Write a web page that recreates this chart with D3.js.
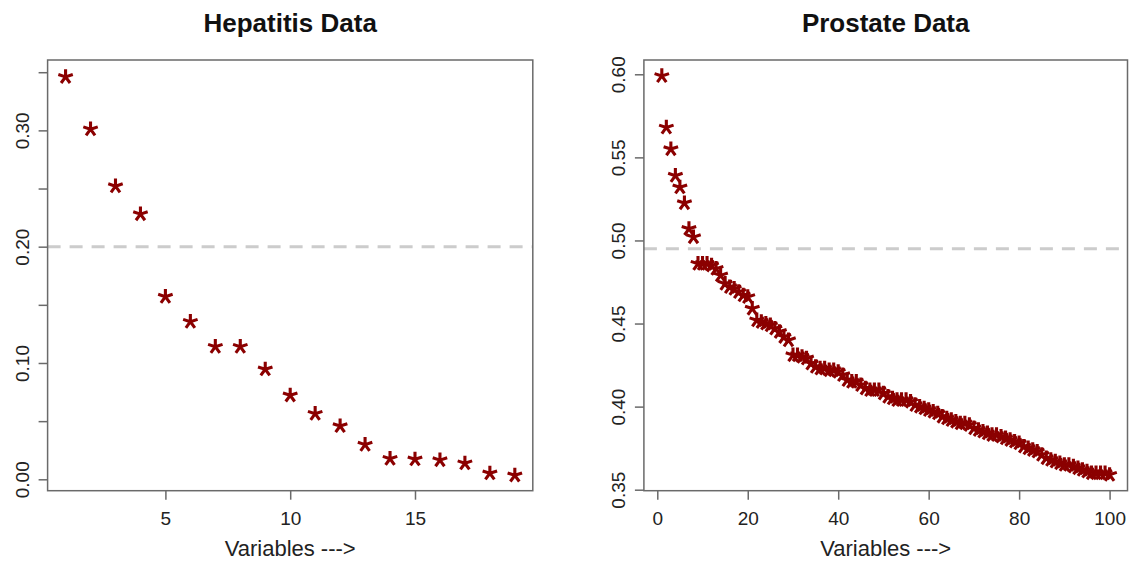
<!DOCTYPE html>
<html><head><meta charset="utf-8">
<script src="https://cdn.jsdelivr.net/npm/d3@7"></script>
<style>
body{margin:0;background:#fff}
svg{display:block}
text{font-family:"Liberation Sans",Arial,Helvetica,sans-serif}
</style>
</head><body>
<svg id="chart" width="1129" height="562"></svg>
<script>
// ---------- DATA ----------
const hepatitisTitle = "Hepatitis Data";
const hepatitisValues = [0.346, 0.301, 0.252, 0.228, 0.157, 0.1355, 0.114, 0.114, 0.0946, 0.0722,
  0.0564, 0.0458, 0.0298, 0.0177, 0.0172, 0.0165, 0.0138, 0.0052, 0.0034];
const hepatitisXTicks = [5, 10, 15];
const hepatitisYTicks = [0.00, 0.05, 0.10, 0.15, 0.20, 0.25, 0.30, 0.35];
const hepatitisYTickLabels = ["0.00", "", "0.10", "", "0.20", "", "0.30", ""];
const hepatitisCutoff = 0.20;

const prostateTitle = "Prostate Data";
const prostateValues = [0.599, 0.568, 0.555, 0.539, 0.532, 0.5225, 0.507, 0.502, 0.486, 0.486,
  0.486, 0.485, 0.483, 0.479, 0.474, 0.472, 0.471, 0.469, 0.467, 0.466,
  0.459, 0.452, 0.451, 0.450, 0.449, 0.447, 0.445, 0.442, 0.440, 0.431,
  0.431, 0.430, 0.429, 0.426, 0.424, 0.423, 0.423, 0.422, 0.422, 0.421,
  0.419, 0.416, 0.415, 0.415, 0.413, 0.411, 0.410, 0.410, 0.410, 0.408,
  0.406, 0.405, 0.404, 0.404, 0.404, 0.403, 0.401, 0.400, 0.399, 0.398,
  0.397, 0.396, 0.394, 0.393, 0.392, 0.391, 0.390, 0.390, 0.389, 0.387,
  0.386, 0.385, 0.384, 0.383, 0.383, 0.382, 0.381, 0.380, 0.379, 0.378,
  0.376, 0.375, 0.374, 0.373, 0.371, 0.369, 0.368, 0.367, 0.366, 0.365,
  0.365, 0.364, 0.363, 0.362, 0.361, 0.360, 0.360, 0.360, 0.360, 0.359];
const prostateXTicks = [0, 20, 40, 60, 80, 100];
const prostateYTicks = [0.35, 0.40, 0.45, 0.50, 0.55, 0.60];
const prostateYTickLabels = ["0.35", "0.40", "0.45", "0.50", "0.55", "0.60"];
const prostateCutoff = 0.495;

const xAxisTitle = "Variables --->";

// ---------- DRAWING ----------
const svg = d3.select("#chart");
const markColor = "#8b0000";
const frameColor = "#6a6a6a";
const textColor = "#222";

function starPath(r) {
  let d = "";
  for (let k = 0; k < 5; k++) {
    const a = -Math.PI / 2 + k * 2 * Math.PI / 5;
    d += "M0,0L" + (r * Math.cos(a)).toFixed(2) + "," + (r * Math.sin(a)).toFixed(2);
  }
  return d;
}

function panel(cfg) {
  const top = 60, bottom = 490.7;
  const x = d3.scaleLinear().domain(cfg.xDomain).range(cfg.xRange);
  const y = d3.scaleLinear().domain(cfg.yDomain).range([bottom, top]);
  const g = svg.append("g");
  const left = cfg.xRange[0], right = cfg.xRange[1];

  // cutoff line
  g.append("line")
    .attr("x1", left).attr("x2", right)
    .attr("y1", y(cfg.cutoff)).attr("y2", y(cfg.cutoff))
    .attr("stroke", "#cccccc").attr("stroke-width", 3)
    .attr("stroke-dasharray", "13,9");

  // points
  g.selectAll("path.pt").data(cfg.values).enter().append("path")
    .attr("class", "pt")
    .attr("d", starPath(7.6))
    .attr("transform", (d, i) => `translate(${x(i + 1)},${y(d)})`)
    .attr("fill", "none")
    .attr("stroke", markColor)
    .attr("stroke-width", 3.1);

  // box
  g.append("rect")
    .attr("x", left).attr("y", top)
    .attr("width", right - left).attr("height", bottom - top)
    .attr("fill", "none").attr("stroke", frameColor).attr("stroke-width", 1.5);

  // x axis
  const xa = g.append("g").attr("transform", `translate(0,${bottom})`)
    .call(d3.axisBottom(x).tickValues(cfg.xTicks).tickSize(9).tickSizeOuter(0).tickFormat(d3.format("d")));
  xa.select(".domain").remove();
  xa.selectAll(".tick line").attr("stroke", frameColor).attr("stroke-width", 1.5);
  xa.selectAll(".tick text").attr("y", 34).attr("dy", 0)
    .attr("fill", textColor).style("font-size", "19px")
    .style("font-family", '"Liberation Sans",Arial,sans-serif');

  // y axis
  const ya = g.append("g").attr("transform", `translate(${left},0)`)
    .call(d3.axisLeft(y).tickValues(cfg.yTicks).tickSize(9).tickSizeOuter(0)
      .tickFormat((d, i) => cfg.yTickLabels[i]));
  ya.select(".domain").remove();
  ya.selectAll(".tick line").attr("stroke", frameColor).attr("stroke-width", 1.5);
  ya.selectAll(".tick text")
    .attr("transform", "rotate(-90)")
    .attr("x", 0).attr("y", -19).attr("dy", 0)
    .style("text-anchor", "middle")
    .attr("fill", textColor).style("font-size", "19px")
    .style("font-family", '"Liberation Sans",Arial,sans-serif');

  // title
  svg.append("text")
    .attr("x", (left + right) / 2).attr("y", 32)
    .attr("text-anchor", "middle")
    .style("font-size", "26px").style("font-weight", "bold")
    .attr("fill", "#111")
    .text(cfg.title);

  // x axis label
  svg.append("text")
    .attr("x", (left + right) / 2).attr("y", 556)
    .attr("text-anchor", "middle")
    .style("font-size", "22px")
    .attr("fill", textColor)
    .text(xAxisTitle);
}

panel({
  title: hepatitisTitle,
  values: hepatitisValues,
  xDomain: [0.28, 19.72], xRange: [47.6, 532.8],
  yDomain: [-0.0098, 0.3605],
  xTicks: hepatitisXTicks, yTicks: hepatitisYTicks, yTickLabels: hepatitisYTickLabels,
  cutoff: hepatitisCutoff
});

panel({
  title: prostateTitle,
  values: prostateValues,
  xDomain: [-2.96, 103.96], xRange: [643.9, 1127.5],
  yDomain: [0.3494, 0.6086],
  xTicks: prostateXTicks, yTicks: prostateYTicks, yTickLabels: prostateYTickLabels,
  cutoff: prostateCutoff
});
</script>
</body></html>
